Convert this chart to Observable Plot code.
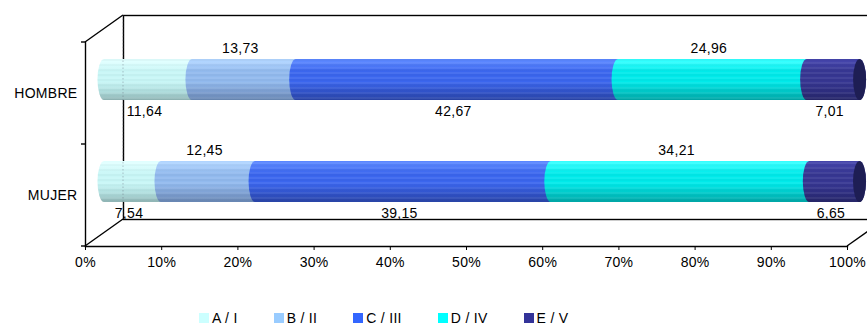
<!DOCTYPE html>
<html>
<head>
<meta charset="utf-8">
<script src="https://cdn.jsdelivr.net/npm/d3@7"></script>
<script src="https://cdn.jsdelivr.net/npm/@observablehq/plot@0.6"></script>
<style>
  html, body { margin: 0; padding: 0; background: #fff; overflow: hidden; }
  #chart svg { display: block; }
  .legend { display: flex; gap: 36px; padding-left: 199px; padding-top: 36px; height: 14px;
            font-family: "Liberation Sans", Arial, sans-serif; font-size: 14px; line-height: 14px;
            letter-spacing: 0.3px; color: #000; }
  .legend .item { display: flex; align-items: center; white-space: pre; }
  .legend .sw { width: 10px; height: 10px; margin-right: 3px; display: inline-block; }
</style>
</head>
<body>
<div id="chart"></div>
<div class="legend" id="legend"></div>
<script>
// ---- data ----
const categories = ["HOMBRE", "MUJER"];
const series = ["A / I", "B / II", "C / III", "D / IV", "E / V"];
const hombre = [11.64, 13.73, 42.67, 24.96, 7.01];
const mujer = [7.54, 12.45, 39.15, 34.21, 6.65];
const xTicks = [0, 10, 20, 30, 40, 50, 60, 70, 80, 90, 100];
const legendColors = ["#ccffff", "#99ccff", "#3366ff", "#00ffff", "#333399"];

// cylinder shading (top -> bottom)
const shades = [
  ["#e0ffff", "#c8f6f6", "#aedcdc", "#8fb4b4"],
  ["#b0d4ff", "#92baee", "#7c9ed0", "#6886b2"],
  ["#5a86ff", "#3b66ee", "#3052c8", "#2944a6"],
  ["#33ffff", "#00eaea", "#00c6c6", "#00a6a6"],
  ["#4444aa", "#363692", "#2d2d7e", "#262668"]
];
const capColor = "#1e1e54";

const values = {HOMBRE: hombre, MUJER: mujer};
const rows = [];
for (const c of categories) {
  let acc = 0;
  values[c].forEach((v, i) => {
    rows.push({cat: c, series: series[i], si: i, value: v, x1: acc, x2: acc + v, mid: acc + v / 2});
    acc += v;
  });
}
const totals = categories.map(c => ({cat: c, start: 0, total: d3.sum(values[c])}));

const fmt = v => v.toFixed(2).replace(".", ",");
// cylinders sit at half depth: shifted up-right and slightly foreshortened (perspective)
const DX = 19, DY = -13.5, persp = 0.9915;
const px = f => d => d[f] * persp;
const bandInset = 30.5;
const cyl = {insetTop: bandInset, insetBottom: bandInset, insetLeft: -6.5, insetRight: -6.5,
             rx: 6.5, ry: 20.5, dx: DX, dy: DY};

const barMarks = series.map((s, i) =>
  Plot.barX(rows.filter(r => r.si === i), {
    x1: px("x1"), x2: px("x2"), y: "cat", fill: `url(#grad${i})`, ...cyl
  })
);

const plot = Plot.plot({
  width: 867, height: 275,
  marginLeft: 85, marginRight: 20, marginTop: 42, marginBottom: 29,
  x: {domain: [0, 100], label: null},
  y: {domain: categories, padding: 0, label: null},
  style: {fontFamily: "'Liberation Sans', Arial, sans-serif", fontSize: "14px", color: "#000", letterSpacing: "0.3px"},
  marks: [
    Plot.frame({dx: 38, dy: -27, stroke: "#000", strokeWidth: 1.4}),
    Plot.frame({anchor: "bottom", stroke: "#000", strokeWidth: 1.4}),
    Plot.frame({anchor: "left", stroke: "#000", strokeWidth: 1.4}),
    Plot.axisX({ticks: xTicks, tickFormat: d => d + "%", tickSize: 4, tickPadding: 7, stroke: "#000", label: null}),
    Plot.axisY({tickSize: 0, tickPadding: 8, label: null}),
    ...barMarks,
    Plot.barX(totals, {x1: px("start"), x2: px("total"), y: "cat", fill: "url(#stripes)", ...cyl}),
    Plot.barX(totals, {x1: px("total"), x2: px("total"), y: "cat", fill: capColor, ...cyl}),
    Plot.text(rows.filter(r => r.si % 2 === 0), {
      x: px("mid"), y: "cat", text: d => fmt(d.value), dx: DX - 4, dy: 18, fill: "#000"
    }),
    Plot.text(rows.filter(r => r.si % 2 === 1), {
      x: px("mid"), y: "cat", text: d => fmt(d.value), dx: DX - 4, dy: -45, fill: "#000"
    })
  ]
});

// gradients & stripes
const svg = d3.select(plot);
const defs = svg.insert("defs", ":first-child");
shades.forEach((sh, i) => {
  const g = defs.append("linearGradient").attr("id", `grad${i}`)
    .attr("x1", 0).attr("y1", 0).attr("x2", 0).attr("y2", 1);
  const stops = [[0, sh[0]], [0.06, sh[0]], [0.3, sh[1]], [0.55, sh[1]], [0.8, sh[2]], [1, sh[3]]];
  stops.forEach(([o, c]) => g.append("stop").attr("offset", o).attr("stop-color", c));
});
const pat = defs.append("pattern").attr("id", "stripes").attr("patternUnits", "userSpaceOnUse")
  .attr("width", 10).attr("height", 5);
pat.append("rect").attr("x", 0).attr("y", 1).attr("width", 10).attr("height", 1).attr("fill", "#fff").attr("fill-opacity", 0.13);
pat.append("rect").attr("x", 0).attr("y", 3).attr("width", 10).attr("height", 1).attr("fill", "#000").attr("fill-opacity", 0.05);

// 3D frame diagonals and boundary ticks, from the plot's own scales
const sx = plot.scale("x"), sy = plot.scale("y");
const x0 = sx.apply(0), x100 = sx.apply(100);
const yTop = sy.apply(categories[0]);
const yMid = sy.apply(categories[1]);
const yBot = yMid + sy.bandwidth;
const deco = svg.append("g").attr("stroke", "#000").attr("stroke-width", 1.4).attr("fill", "none");
[[x0, yTop], [x0, yBot], [x100, yBot]].forEach(([x, y]) =>
  deco.append("line").attr("x1", x).attr("y1", y).attr("x2", x + 38).attr("y2", y - 27));
[yTop, yMid, yBot].forEach(y =>
  deco.append("line").attr("x1", x0 - 4).attr("y1", y).attr("x2", x0).attr("y2", y));
// back-wall edge faintly visible through the translucent cylinders
deco.append("line").attr("x1", x0 + 38).attr("y1", yTop - 27).attr("x2", x0 + 38).attr("y2", yBot - 27)
  .attr("stroke", "#556").attr("stroke-opacity", 0.35).attr("stroke-width", 1).attr("stroke-dasharray", "1.5,2");

document.getElementById("chart").append(plot);

// legend
const lg = d3.select("#legend");
series.forEach((s, i) => {
  const it = lg.append("div").attr("class", "item");
  it.append("span").attr("class", "sw").style("background", legendColors[i]);
  it.append("span").text(s);
});
</script>
</body>
</html>
